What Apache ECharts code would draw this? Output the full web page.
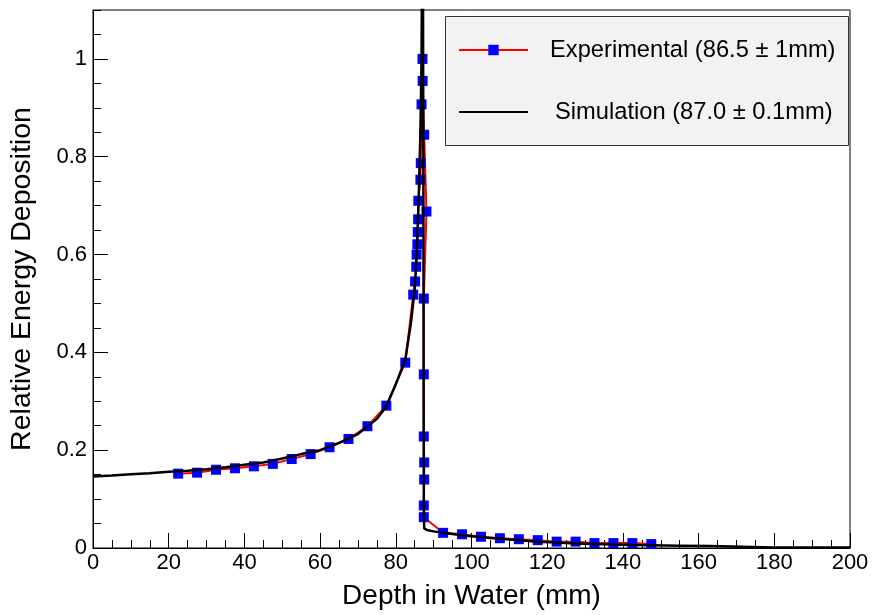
<!DOCTYPE html>
<html>
<head>
<meta charset="utf-8">
<script src="https://cdn.jsdelivr.net/npm/echarts@6/dist/echarts.min.js"></script>
<style>
html,body{margin:0;padding:0;background:#fff;}
#chart{width:874px;height:615px;}
</style>
</head>
<body>
<div id="chart"></div>
<script>
// Experimental data (depth mm, relative energy)
const expDepth = [22.5,27.5,32.5,37.5,42.5,47.5,52.5,57.5,62.5,67.5,72.5,77.5,82.5,
  84.6,85.1,85.4,85.5,85.7,85.8,85.9,85.95,86.5,86.6,86.8,87.05,87.1,87.5,88.1,
  87.4,87.4,87.4,87.5,87.5,87.4,87.4,
  92.5,97.5,102.5,107.5,112.5,117.5,122.5,127.5,132.5,137.5,142.5,147.5];
const expValue = [0.152,0.154,0.160,0.163,0.167,0.172,0.182,0.192,0.206,0.223,0.249,0.291,0.379,
  0.518,0.545,0.575,0.600,0.621,0.646,0.672,0.710,0.753,0.787,0.907,1.000,0.955,0.845,0.688,
  0.510,0.355,0.228,0.175,0.140,0.087,0.063,
  0.031,0.028,0.023,0.020,0.018,0.016,0.013,0.013,0.010,0.010,0.010,0.008];

// Simulation data
const simDepth = [0,5,10,15,20,25,30,35,40,45,50,55,60,65,70,75,77.5,80,82.5,84,85,85.5,86,86.5,86.8,
  87.0,87.2,87.3,87.35,87.4,87.5,88.2,90,92.5,97.5,102.5,107.5,112.5,117.5,122.5,127.5,132.5,137.5,
  142.5,147.5,155,163,163.5,180,200];
const simValue = [0.146,0.148,0.151,0.153,0.156,0.158,0.161,0.165,0.170,0.175,0.183,0.192,0.200,0.215,
  0.233,0.264,0.290,0.335,0.385,0.46,0.53,0.60,0.70,0.85,1.0,
  1.3,1.1,0.7,0.3,0.1,0.04,0.037,0.034,0.031,0.026,0.022,0.019,0.016,0.013,0.011,0.009,0.008,0.007,
  0.006,0.0055,0.0048,0.004,0.0008,0.0008,0.0008];

const xTicks = {min: 0, max: 200, step: 20};
const yTicks = {min: 0, max: 1.1, step: 0.2, minorStep: 0.05};

const seriesNames = ['Experimental (86.5 \u00b1 1mm)', 'Simulation (87.0 \u00b1 0.1mm)'];

const FONT = '"Liberation Sans", Arial, Helvetica, sans-serif';

const chart = echarts.init(document.getElementById('chart'));
const option = {
  animation: false,
  backgroundColor: '#ffffff',
  textStyle: {fontFamily: FONT},
  grid: {left: 93, right: 24, top: 10, bottom: 63, show: true, borderColor: '#000', borderWidth: 1, backgroundColor: 'transparent'},
  graphic: [{
    type: 'rect', left: 445, top: 16, z: 5,
    shape: {width: 403, height: 129},
    style: {fill: '#f2f2f2', stroke: '#333', lineWidth: 1}
  }],
  legend: {
    orient: 'vertical', left: 445, top: 16, z: 10,
    padding: [22, 13, 0, 13],
    itemWidth: 69, itemHeight: 13, itemGap: 38,
    textStyle: {fontFamily: FONT, fontSize: 23.7, color: '#000', lineHeight: 22, padding: [0, 0, 0, 17]},
    data: [
      {name: seriesNames[0]},
      {name: seriesNames[1], textStyle: {padding: [0, 0, 0, 22]},
       itemStyle: {color: 'rgba(0,0,0,0)', borderWidth: 0, opacity: 0}}
    ]
  },
  xAxis: {
    type: 'value', min: xTicks.min, max: xTicks.max, interval: xTicks.step,
    name: 'Depth in Water (mm)', nameLocation: 'middle', nameGap: 34,
    nameTextStyle: {fontFamily: FONT, fontSize: 28, color: '#000'},
    axisLine: {lineStyle: {color: '#000', width: 1}},
    axisTick: {inside: true, length: 15, lineStyle: {color: '#000'}},
    minorTick: {show: true, splitNumber: 4, length: 8, lineStyle: {color: '#000'}},
    splitLine: {show: false},
    axisLabel: {fontFamily: FONT, fontSize: 22, color: '#000', margin: 4}
  },
  yAxis: [{
    type: 'value', min: yTicks.min, max: yTicks.max, interval: yTicks.step,
    name: 'Relative Energy Deposition', nameLocation: 'middle', nameGap: 56,
    nameTextStyle: {fontFamily: FONT, fontSize: 28.5, color: '#000'},
    axisLine: {show: true, lineStyle: {color: '#000', width: 1}},
    axisTick: {inside: true, length: 15, lineStyle: {color: '#000'}},
    splitLine: {show: false},
    axisLabel: {fontFamily: FONT, fontSize: 22, color: '#000', margin: 6, showMaxLabel: false,
      formatter: v => (v > 1.05 ? '' : String(+v.toFixed(2)))}
  }, {
    type: 'value', min: yTicks.min, max: yTicks.max, interval: yTicks.minorStep, position: 'left',
    axisLine: {show: false},
    axisTick: {inside: true, length: 8, lineStyle: {color: '#000'}},
    splitLine: {show: false},
    axisLabel: {show: false}
  }],
  series: [{
    name: seriesNames[0], type: 'line', yAxisIndex: 0, z: 2,
    data: expDepth.map((d, i) => [d, expValue[i]]),
    symbol: 'rect', symbolSize: 10, showAllSymbol: true,
    lineStyle: {color: '#ff0000', width: 2},
    itemStyle: {color: '#0000ff', borderWidth: 0},
    emphasis: {disabled: true}
  }, {
    name: seriesNames[1], type: 'line', yAxisIndex: 0, z: 3,
    data: simDepth.map((d, i) => [d, simValue[i]]),
    symbol: 'none',
    lineStyle: {color: '#000000', width: 2.5},
    itemStyle: {color: '#000000'},
    emphasis: {disabled: true}
  }]
};
chart.setOption(option);
</script>
</body>
</html>
